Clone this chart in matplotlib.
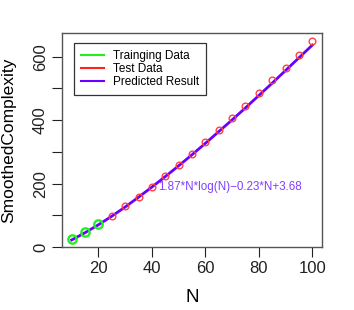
import matplotlib
matplotlib.use("Agg")
import matplotlib.pyplot as plt
from matplotlib.lines import Line2D

plt.rcParams['font.family'] = ['Liberation Sans', 'DejaVu Sans']

train_n = [10, 15, 20]
train_y = [25, 47, 71]
test_n = [25, 30, 35, 40, 45, 50, 55, 60, 65, 70, 75, 80, 85, 90, 95, 100]
test_y = [98, 128, 159, 190, 225, 260, 294, 332, 368, 406, 446, 485, 526, 566, 607, 649]
pred_n = [10, 15, 20, 25, 30, 35, 40, 45, 50, 55, 60, 65, 70, 75, 80, 85, 90, 95, 100]
pred_y = [22, 45, 70, 97, 126, 157, 189, 222, 256, 291, 327, 364, 401, 439, 478, 517, 557, 597, 637]
x_ticks = [20, 40, 60, 80, 100]
y_ticks = [0, 100, 200, 300, 400, 500, 600]
y_labels = ['0', '', '200', '', '400', '', '600']
formula = "1.87*N*log(N)\u22120.23*N+3.68"

fig = plt.figure(figsize=(3.54, 3.10), dpi=100)
ax = fig.add_axes([62/354, 1-247.3/310, 260/354, 214.3/310])

line_col = '#6a00ff'
ax.plot(pred_n, pred_y, color=line_col, lw=2.0, zorder=3)
ax.plot(test_n, test_y, 'o', mfc='none', mec='#ff4040', ms=4.8, mew=1.0, zorder=4)
ax.plot(train_n, train_y, 'o', mfc='none', mec='#22ee22', ms=6.0, mew=1.7, zorder=4)

ax.text(42.5, 190, formula, color='#8040ff', fontsize=8.4, va='center', ha='left')

ax.set_xlim(6.4, 103.6)
ax.set_ylim(-1, 675)
ax.set_xticks(x_ticks)
ax.set_yticks(y_ticks)
ax.set_yticklabels(y_labels, rotation=90, va='center')
ax.tick_params(axis='both', length=7, width=0.8, labelsize=12, colors='#222222', pad=3)
ax.tick_params(axis='y', pad=3)
for s in ax.spines.values():
    s.set_color('#555555')
    s.set_linewidth(1.0)

ax.set_xlabel('N', fontsize=13.5, labelpad=9)
ax.set_ylabel('SmoothedComplexity', fontsize=12.5, labelpad=12)

handles = [Line2D([], [], color='#22ee22', lw=1.5),
           Line2D([], [], color='#ff2020', lw=1.5),
           Line2D([], [], color=line_col, lw=1.5)]
leg = ax.legend(handles, ['Trainging Data', 'Test Data', 'Predicted Result'],
                loc='upper left', bbox_to_anchor=(0.045, 0.955), fontsize=8.5,
                frameon=True, fancybox=False, edgecolor='#333333', framealpha=1,
                handlelength=2.0, handletextpad=0.75, labelspacing=0.1,
                borderpad=0.6, borderaxespad=0)
leg.get_frame().set_linewidth(0.9)

fig.savefig('out.png', dpi=100)
